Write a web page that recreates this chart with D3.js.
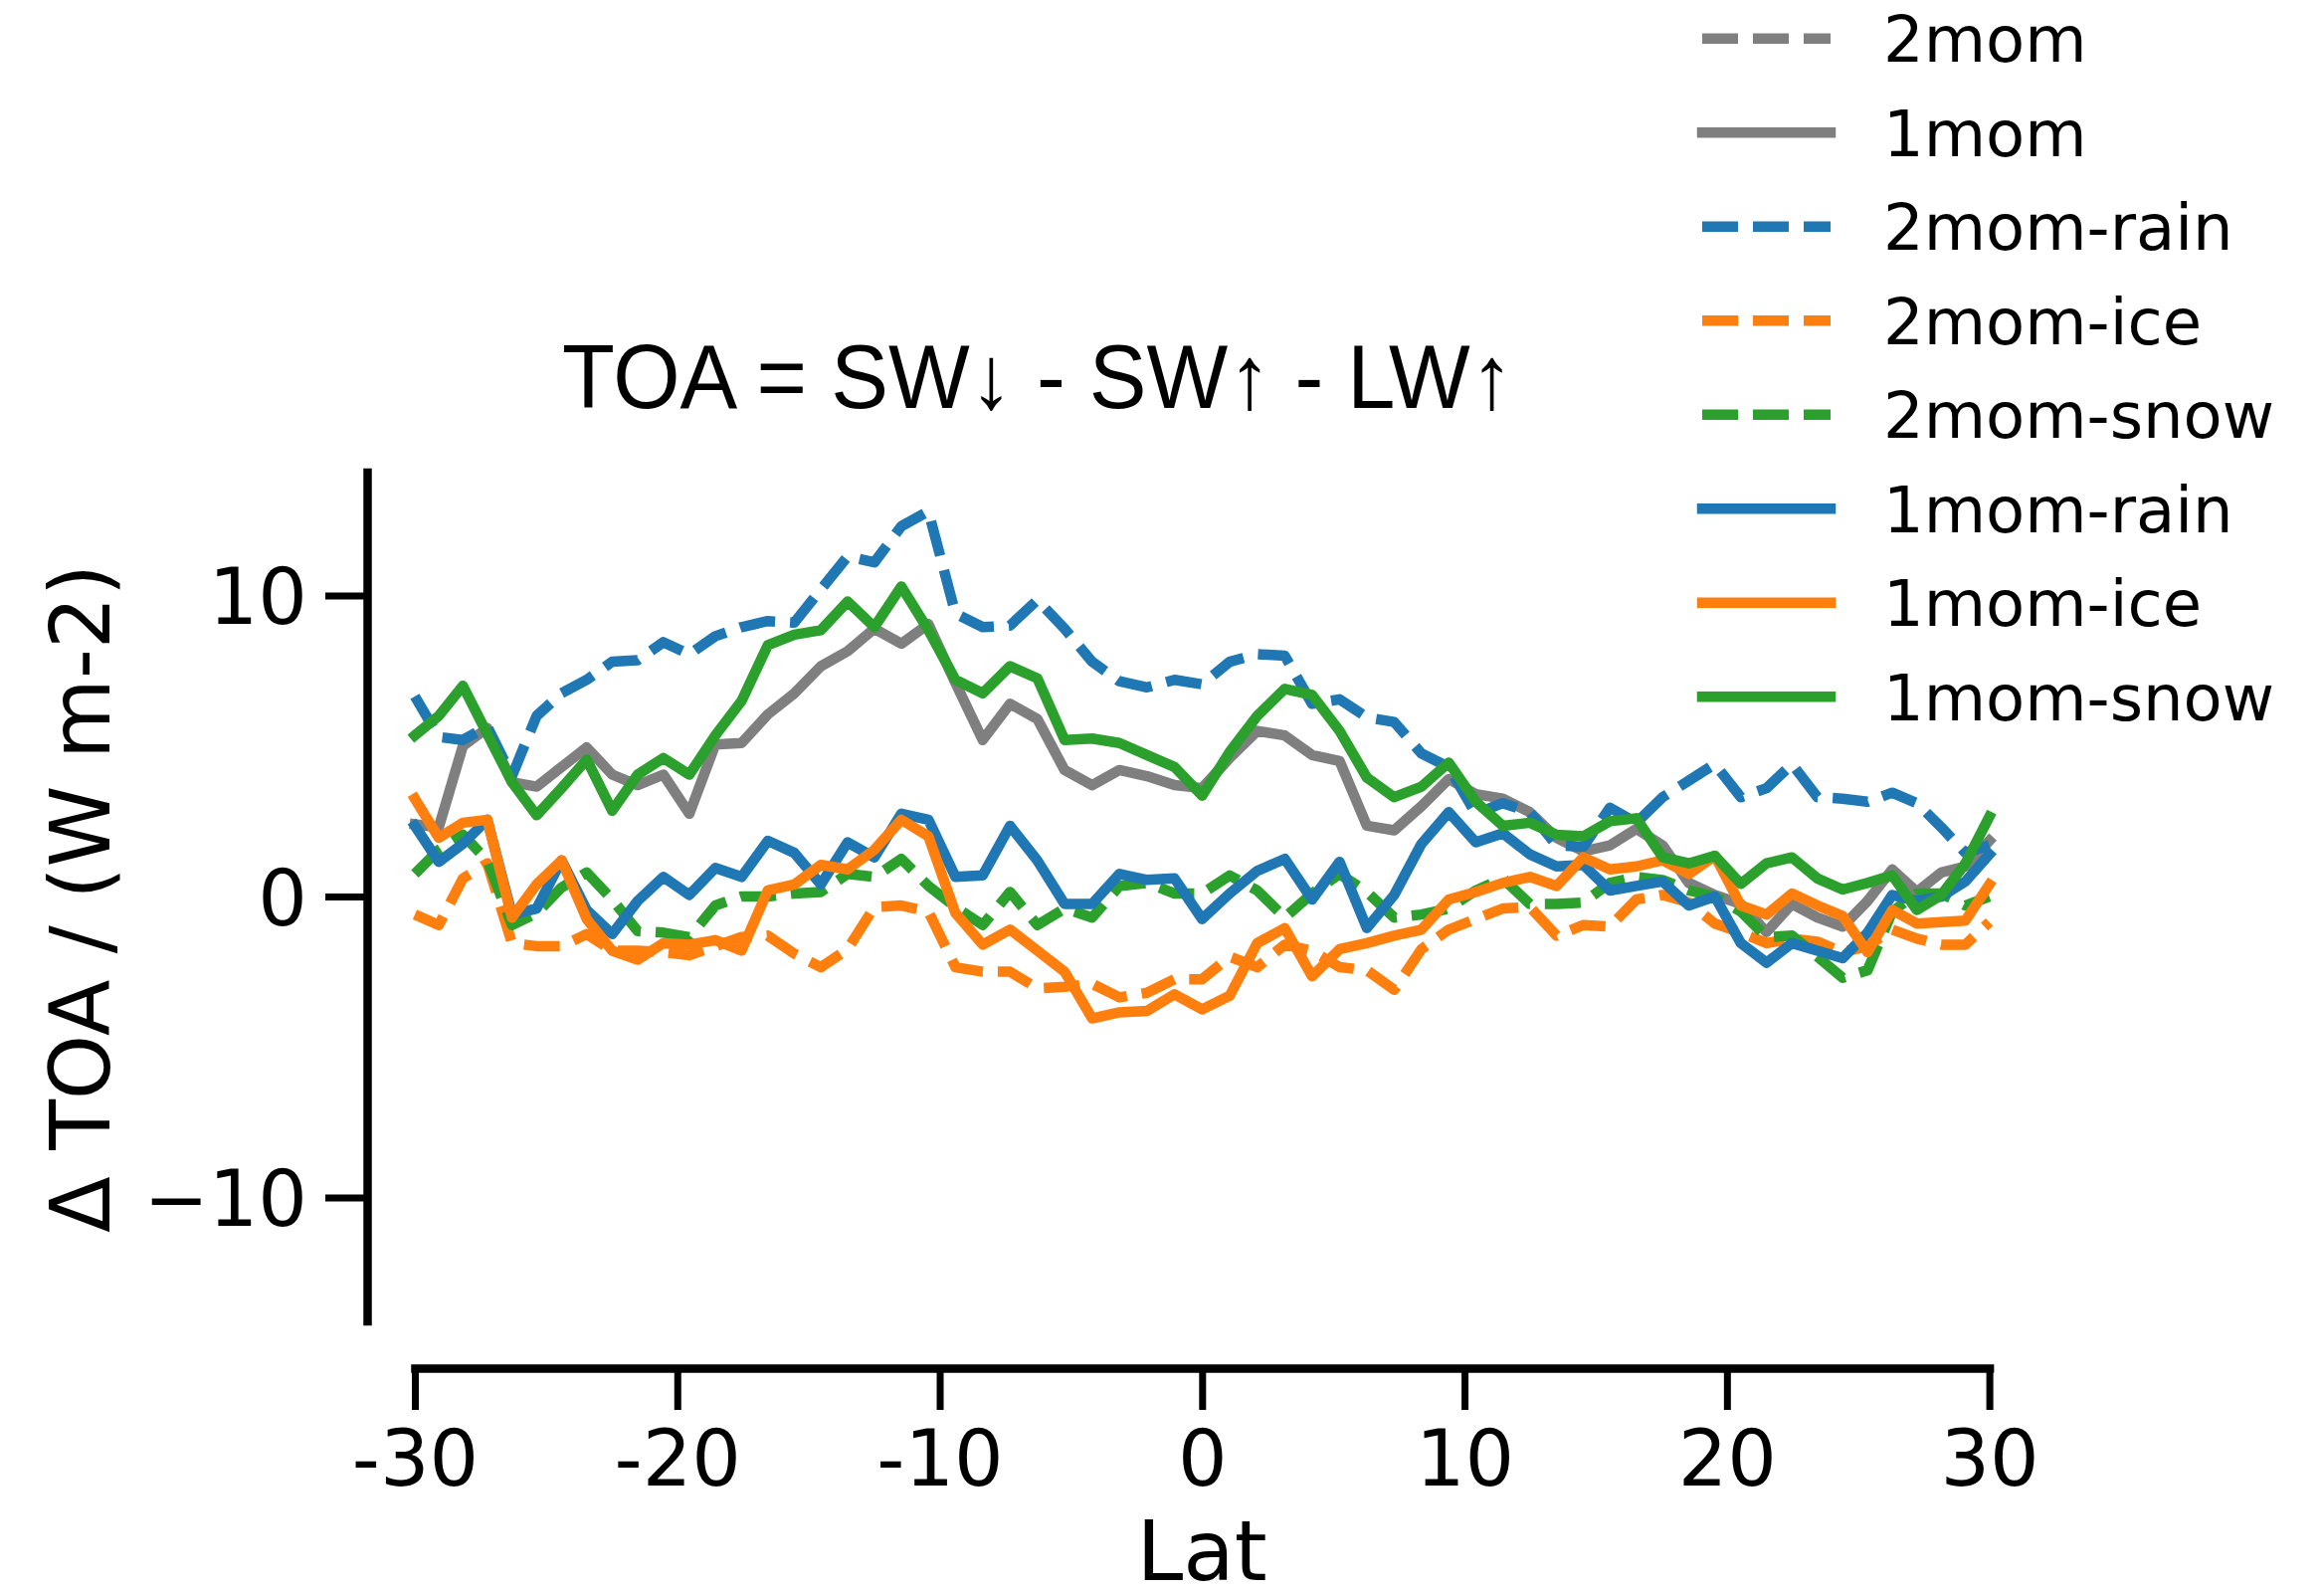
<!DOCTYPE html>
<html>
<head>
<meta charset="utf-8">
<script src="https://cdn.jsdelivr.net/npm/d3@7"></script>
<style>
  html, body { margin: 0; padding: 0; background: #fff; }
  svg { display: block; }
</style>
</head>
<body>
<svg id="chart" width="2336" height="1599"></svg>
<script>
// latitude of each grid point (grid is not quite uniform in degrees)
const lat = [-30, -29.09, -28.17, -27.24, -26.30, -25.36, -24.41, -23.45, -22.48, -21.51,
  -20.53, -19.54, -18.55, -17.55, -16.55, -15.54, -14.53, -13.51, -12.49, -11.46,
  -10.43, -9.40, -8.36, -7.32, -6.28, -5.24, -4.19, -3.15, -2.10, -1.05,
  0,
  1.05, 2.10, 3.15, 4.19, 5.24, 6.28, 7.32, 8.36, 9.40, 10.43,
  11.46, 12.49, 13.51, 14.53, 15.54, 16.55, 17.55, 18.55, 19.54, 20.53,
  21.51, 22.48, 23.45, 24.41, 25.36, 26.30, 27.24, 28.17, 29.09, 30];

// Δ TOA (W m-2) per run
const mom2 = []; // reference run, only shown in the legend
const mom1 = [2.4, 2.3, 5.0, 5.6, 3.8, 3.65, 4.3, 4.95, 4.05, 3.7,
  4.05, 2.75, 5.05, 5.1, 6.05, 6.75, 7.65, 8.15, 8.9, 8.4,
  9.05, 7.1, 5.2, 6.4, 5.9, 4.2, 3.7, 4.2, 4.0, 3.7,
  3.6,
  4.6, 5.5, 5.35, 4.7, 4.5, 2.35, 2.2, 3.0, 3.9, 3.4,
  3.25, 2.8, 1.95, 1.5, 1.7, 2.25, 1.7, 0.45, 0.05, -0.25,
  -1.18, -0.25, -0.7, -1.0, -0.15, 0.9, 0.15, 0.8, 1.0, 1.85];
const rain2 = [6.65, 5.3, 5.2, 5.65, 4.0, 6.0, 6.75, 7.2, 7.8, 7.85,
  8.45, 8.05, 8.65, 8.95, 9.15, 9.1, 10.2, 11.3, 11.1, 12.3,
  12.8, 9.4, 8.95, 9.0, 9.85, 8.9, 7.8, 7.15, 6.95, 7.2,
  7.05,
  7.8, 8.05, 8.0, 6.4, 6.55, 5.95, 5.8, 4.75, 4.3, 2.75,
  3.1, 2.8, 1.7, 1.65, 2.95, 2.45, 3.3, 3.85, 4.4, 3.3,
  3.6, 4.4, 3.3, 3.25, 3.15, 3.45, 3.1, 2.3, 1.45, 1.7];
const ice2 = [-0.6, -0.95, 0.6, 1.1, -1.55, -1.65, -1.65, -1.25, -1.8, -1.8,
  -1.85, -1.95, -1.65, -1.35, -1.3, -1.9, -2.35, -1.75, -0.35, -0.3,
  -0.5, -2.35, -2.5, -2.5, -3.05, -3.0, -2.9, -3.35, -3.2, -2.75,
  -2.75,
  -2.0, -2.35, -1.6, -1.8, -2.35, -2.45, -3.1, -1.75, -1.1, -0.75,
  -0.4, -0.35, -1.3, -0.95, -1.0, -0.1, 0.05, -0.2, -0.9, -1.2,
  -1.55, -1.4, -1.5, -1.85, -1.65, -1.1, -1.4, -1.6, -1.6, -0.85];
const snow2 = [0.75, 1.55, 2.05, 1.2, -0.95, -0.55, 0.3, 0.8, -0.1, -1.15,
  -1.2, -1.35, -0.3, 0.0, 0.0, 0.1, 0.15, 0.75, 0.65, 1.25,
  0.35, -0.35, -0.95, 0.15, -0.95, -0.4, -0.7, 0.35, 0.45, 0.1,
  0.1,
  0.7, 0.2, -0.7, 0.1, 0.75, 0.15, -0.7, -0.6, -0.4, 0.2,
  0.6, -0.25, -0.25, -0.2, 0.45, 0.65, 0.55, 0.2, 0.0, -0.5,
  -1.35, -1.3, -2.0, -2.7, -2.45, -0.5, 0.1, 0.1, -0.3, 0.0];
const rain1 = [2.35, 1.15, 1.75, 2.55, -0.6, -0.4, 1.2, -0.45, -1.25, -0.15,
  0.65, 0.05, 0.95, 0.65, 1.85, 1.45, 0.4, 1.8, 1.3, 2.75,
  2.55, 0.65, 0.7, 2.35, 1.2, -0.25, -0.25, 0.75, 0.55, 0.6,
  -0.75,
  0.1, 0.85, 1.25, -0.1, 1.15, -1.05, 0.05, 1.75, 2.8, 1.8,
  2.1, 1.4, 1.0, 1.05, 0.2, 0.35, 0.5, -0.3, 0.0, -1.55,
  -2.2, -1.55, -1.8, -2.05, -1.2, 0.05, -0.15, 0.0, 0.5, 1.4];
const ice1 = [3.25, 1.95, 2.45, 2.55, -0.7, 0.4, 1.2, -0.75, -1.8, -2.1,
  -1.55, -1.6, -1.45, -1.8, 0.2, 0.4, 1.05, 0.9, 1.55, 2.55,
  2.0, -0.55, -1.6, -1.1, -1.8, -2.5, -4.05, -3.85, -3.8, -3.25,
  -3.75,
  -3.3, -1.55, -1.05, -2.65, -1.75, -1.55, -1.3, -1.1, -0.1, 0.15,
  0.45, 0.65, 0.35, 1.3, 0.9, 1.0, 1.2, 0.75, 1.35, -0.3,
  -0.6, 0.1, -0.3, -0.65, -1.85, -0.45, -0.9, -0.85, -0.8, 0.4];
const snow1 = [5.35, 6.0, 7.0, 5.4, 3.8, 2.7, 3.6, 4.55, 2.85, 4.05,
  4.6, 4.05, 5.35, 6.5, 8.35, 8.7, 8.85, 9.8, 8.95, 10.3,
  8.85, 7.2, 6.75, 7.65, 7.25, 5.2, 5.25, 5.1, 4.7, 4.3,
  3.35,
  4.8, 6.0, 6.9, 6.7, 5.5, 3.95, 3.3, 3.65, 4.45, 3.15,
  2.35, 2.45, 2.05, 2.0, 2.5, 2.6, 1.3, 1.1, 1.35, 0.42,
  1.1, 1.3, 0.6, 0.23, 0.45, 0.7, -0.45, 0.05, 1.1, 2.65];

const seriesNames = ['2mom', '1mom', '2mom-rain', '2mom-ice', '2mom-snow', '1mom-rain', '1mom-ice', '1mom-snow'];
const seriesValues = [mom2, mom1, rain2, ice2, snow2, rain1, ice1, snow1];
const seriesColors = ['#7f7f7f', '#7f7f7f', '#1f77b4', '#ff7f0e', '#2ca02c', '#1f77b4', '#ff7f0e', '#2ca02c'];
const seriesDashed = [true, false, true, true, true, false, false, false];

const xTicks = [-30, -20, -10, 0, 10, 20, 30];
const xTickLabels = ['-30', '-20', '-10', '0', '10', '20', '30'];
const yTicks = [-10, 0, 10];
const yTickLabels = ['\u221210', '0', '10'];

const FONT = '"DejaVu Sans", sans-serif';
const LW = 10.5;
const DASH = '36,15';

const svg = d3.select('#chart');
svg.append('rect').attr('width', 2336).attr('height', 1599).attr('fill', '#fff');

const x = d3.scaleLinear().domain([-30, 30]).range([417, 1999.6]);
const y = d3.scaleLinear().domain([-14.1, 14.1]).range([1327.5, 474.5]);

// lines, drawn in legend order so later runs sit on top
const line = d3.line().x((d, i) => x(lat[i])).y(d => y(d));
seriesValues.forEach((vals, s) => {
  if (!vals.length) return;
  svg.append('path')
    .datum(vals)
    .attr('d', line)
    .attr('fill', 'none')
    .attr('stroke', seriesColors[s])
    .attr('stroke-width', LW)
    .attr('stroke-linejoin', 'round')
    .attr('stroke-linecap', seriesDashed[s] ? 'butt' : 'square')
    .attr('stroke-dasharray', seriesDashed[s] ? DASH : null);
});

// axes (offset spines)
const xAxis = d3.axisBottom(x).tickValues(xTicks).tickFormat((d, i) => xTickLabels[i]).tickSize(42).tickSizeOuter(0);
const gx = svg.append('g').attr('transform', 'translate(0,1375)').call(xAxis);
gx.select('.domain').attr('stroke', '#000').attr('stroke-width', 8.5).attr('stroke-linecap', 'square');
gx.selectAll('.tick line').attr('stroke', '#000').attr('stroke-width', 7);
gx.selectAll('.tick text').attr('y', 118).attr('dy', 0)
  .attr('fill', '#000').style('font-family', FONT).style('font-size', '78px');

const yAxis = d3.axisLeft(y).tickValues(yTicks).tickFormat((d, i) => yTickLabels[i]).tickSize(42).tickSizeOuter(0);
const gy = svg.append('g').attr('transform', 'translate(369,0)').call(yAxis);
gy.select('.domain').attr('stroke', '#000').attr('stroke-width', 8.5).attr('stroke-linecap', 'square');
gy.selectAll('.tick line').attr('stroke', '#000').attr('stroke-width', 7);
gy.selectAll('.tick text').attr('x', -60).attr('dy', '0.36em')
  .attr('fill', '#000').style('font-family', FONT).style('font-size', '78px');

svg.append('text')
  .attr('x', 1208).attr('y', 1588)
  .attr('text-anchor', 'middle')
  .style('font-family', FONT).style('font-size', '84px')
  .text('Lat');

svg.append('text')
  .attr('transform', 'translate(110,903) rotate(-90)')
  .attr('text-anchor', 'middle')
  .style('font-family', FONT).style('font-size', '83px')
  .text('\u0394 TOA / (W m-2)');

// title
svg.append('text')
  .attr('x', 565).attr('y', 410)
  .attr('textLength', 956).attr('lengthAdjust', 'spacingAndGlyphs')
  .style('font-family', '"Liberation Sans Narrow", "Liberation Sans", Arial, sans-serif')
  .style('font-size', '90px')
  .text('TOA = SW\u2193 - SW\u2191 - LW\u2191');

// legend
const legend = svg.append('g');
seriesNames.forEach((name, s) => {
  const ly = 38.7 + s * 94.5;
  legend.append('line')
    .attr('x1', 1711).attr('x2', 1840).attr('y1', ly).attr('y2', ly)
    .attr('stroke', seriesColors[s]).attr('stroke-width', LW)
    .attr('stroke-linecap', seriesDashed[s] ? 'butt' : 'square')
    .attr('stroke-dasharray', seriesDashed[s] ? DASH : null);
  legend.append('text')
    .attr('x', 1893).attr('y', ly).attr('dy', '0.37em')
    .style('font-family', FONT).style('font-size', '64px')
    .text(name);
});
</script>
</body>
</html>
